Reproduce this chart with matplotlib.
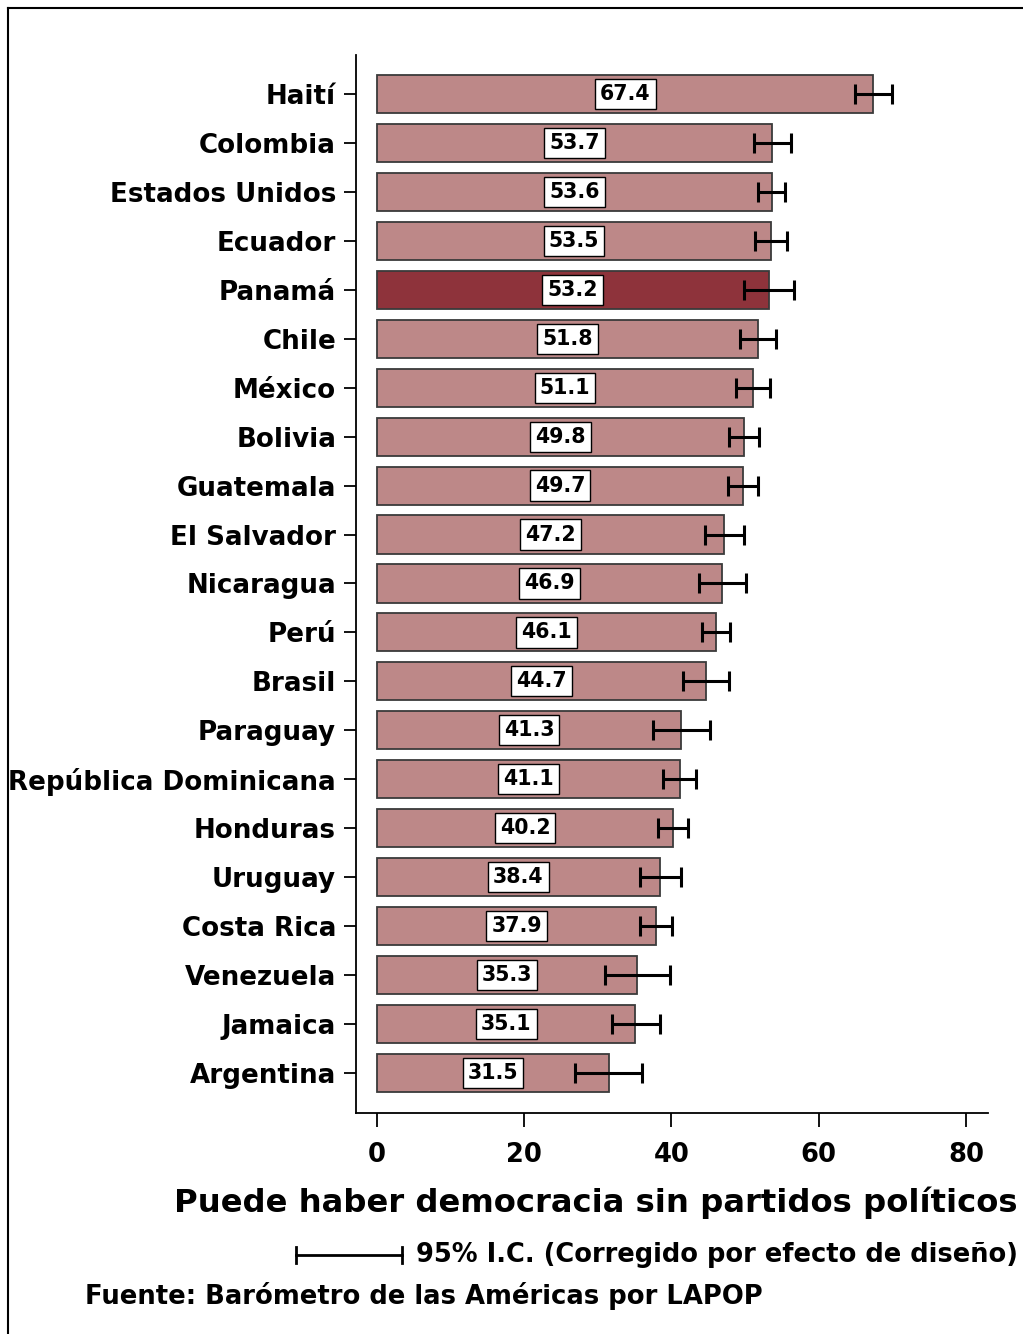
import matplotlib.pyplot as plt
from matplotlib.lines import Line2D

paises = ["Haití", "Colombia", "Estados Unidos", "Ecuador", "Panamá", "Chile",
          "México", "Bolivia", "Guatemala", "El Salvador", "Nicaragua", "Perú",
          "Brasil", "Paraguay", "República Dominicana", "Honduras", "Uruguay",
          "Costa Rica", "Venezuela", "Jamaica", "Argentina"]
valores = [67.4, 53.7, 53.6, 53.5, 53.2, 51.8, 51.1, 49.8, 49.7, 47.2, 46.9,
           46.1, 44.7, 41.3, 41.1, 40.2, 38.4, 37.9, 35.3, 35.1, 31.5]
ic_bajo = [64.9, 51.2, 51.8, 51.3, 49.9, 49.3, 48.8, 47.8, 47.7, 44.6, 43.7,
           44.2, 41.6, 37.5, 38.9, 38.2, 35.7, 35.7, 31.0, 31.9, 26.9]
ic_alto = [70.0, 56.2, 55.4, 55.7, 56.6, 54.2, 53.4, 51.9, 51.8, 49.8, 50.1,
           48.0, 47.8, 45.2, 43.3, 42.2, 41.3, 40.1, 39.8, 38.4, 36.0]
destacado = "Panamá"
xticks = [0, 20, 40, 60, 80]

plt.rcParams['font.family'] = ['DejaVu Sans']
plt.rcParams['font.weight'] = 'bold'

fig = plt.figure(figsize=(10.23, 13.34), dpi=100)
ax = fig.add_axes([0.348, 0.1657, 0.6178, 0.7931])

pos = list(range(len(paises)))
colores = ["#8E333B" if p == destacado else "#BD8888" for p in paises]
ax.barh(pos, valores, height=0.78, color=colores, edgecolor="#3a3a3a", linewidth=1.3, zorder=2)

xerr = [[v - b for v, b in zip(valores, ic_bajo)], [a - v for v, a in zip(valores, ic_alto)]]
ax.errorbar(valores, pos, xerr=xerr, fmt="none", ecolor="black", elinewidth=2.2,
            capsize=7, capthick=2.2, zorder=3)

for p, v in zip(pos, valores):
    ax.text(v / 2, p, f"{v:.1f}", ha="center", va="center", fontsize=14.8, fontweight="bold",
            zorder=4, bbox=dict(boxstyle="square,pad=0.25", facecolor="white", edgecolor="black", linewidth=1))

ax.set_xlim(-2.85, 83.0)
ax.set_ylim(20.82, -0.8)
ax.set_yticks(pos)
ax.set_yticklabels(paises, fontsize=18.8, fontweight="bold")
ax.set_xticks(xticks)
ax.set_xticklabels([str(t) for t in xticks], fontsize=18.5, fontweight="bold")
ax.tick_params(axis="y", length=8.6, width=1.3, pad=5.8)
ax.tick_params(axis="x", length=10, width=1.3, pad=11)
ax.spines["top"].set_visible(False)
ax.spines["right"].set_visible(False)
ax.spines["left"].set_linewidth(1.3)
ax.spines["bottom"].set_linewidth(1.3)

fig.text(0.995, 1 - 1203 / 1334, "Puede haber democracia sin partidos políticos",
         ha="right", va="center", fontsize=23.2, fontweight="bold")

# leyenda del intervalo de confianza
ly = 1 - 1255 / 1334
fig.add_artist(Line2D([296 / 1023, 402 / 1023], [ly, ly], color="black", linewidth=2))
for xx in [296 / 1023, 402 / 1023]:
    fig.add_artist(Line2D([xx, xx], [ly - 8 / 1334, ly + 8 / 1334], color="black", linewidth=2))
fig.text(0.995, ly, "95% I.C. (Corregido por efecto de diseño)", ha="right", va="center",
         fontsize=18.5, fontweight="bold")
fig.text(85 / 1023, 1 - 1296 / 1334, "Fuente: Barómetro de las Américas por LAPOP",
         ha="left", va="center", fontsize=18.6, fontweight="bold")

# marco exterior
fig.add_artist(Line2D([8 / 1023, 8 / 1023], [0, 1 - 8 / 1334], color="black", linewidth=1.5))
fig.add_artist(Line2D([8 / 1023, 1], [1 - 8 / 1334, 1 - 8 / 1334], color="black", linewidth=1.5))

fig.savefig("out.png", dpi=100)
